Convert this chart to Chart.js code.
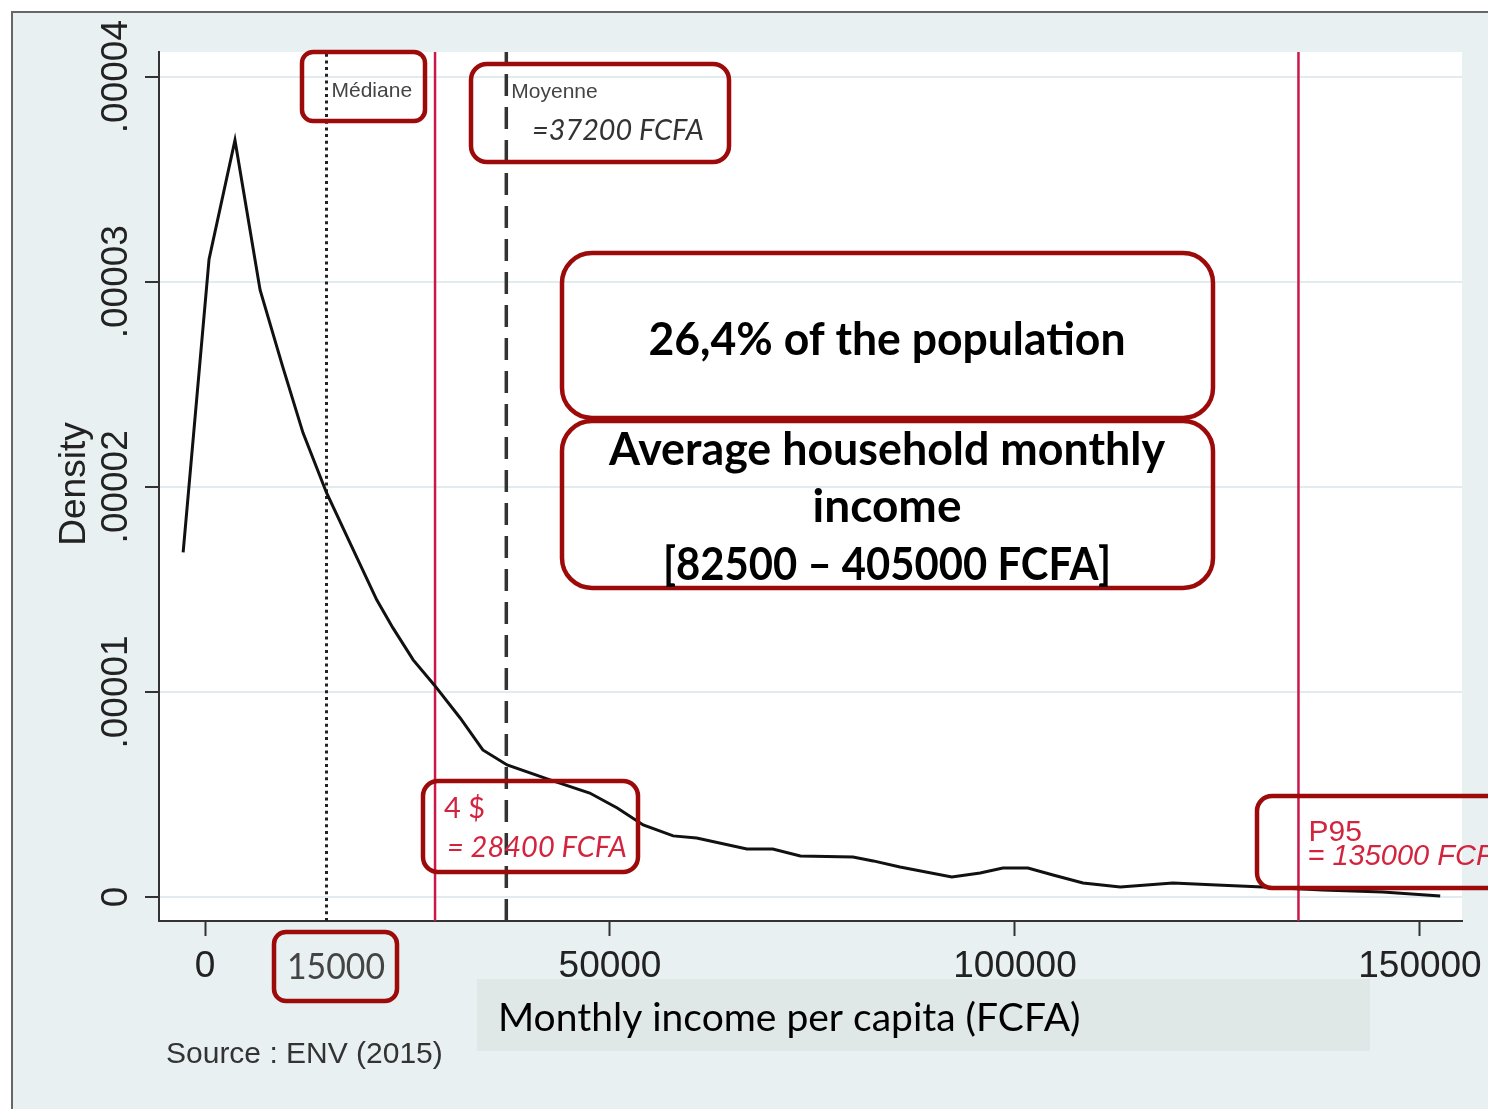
<!DOCTYPE html>
<html>
<head>
<meta charset="utf-8">
<title>Monthly income per capita - density</title>
<script src="https://cdn.jsdelivr.net/npm/chart.js@4.4.1/dist/chart.umd.min.js"></script>
<style>
  html, body { margin: 0; padding: 0; background: #fff; }
  #wrap { width: 1488px; height: 1109px; }
</style>
</head>
<body>
<div id="wrap"><canvas id="density" width="1488" height="1109"></canvas></div>
<script>
(function () {
    "use strict";

    // kernel density curve (FCFA / density)
    var incomeX = [-2700, 500, 3700, 6800, 9600, 12100, 15000, 17900, 21200, 23200,
        25700, 28300, 31500, 34300, 37300, 42600, 47500, 50900, 54100, 57800,
        60700, 66900, 70100, 73500, 80000, 82500, 85800, 92200, 95700, 98500,
        101600, 104700, 108400, 113000, 119500, 124900, 130600, 138000, 145400, 152500];
    var densityY = [1.68e-5, 3.11e-5, 3.69e-5, 2.96e-5, 2.585e-5, 2.263e-5, 1.971e-5, 1.727e-5, 1.449e-5, 1.312e-5,
        1.156e-5, 1.034e-5, 0.873e-5, 0.717e-5, 0.644e-5, 0.571e-5, 0.507e-5, 0.434e-5, 0.351e-5, 0.298e-5,
        0.288e-5, 0.234e-5, 0.234e-5, 0.200e-5, 0.195e-5, 0.176e-5, 0.146e-5, 0.098e-5, 0.117e-5, 0.141e-5,
        0.141e-5, 0.107e-5, 0.068e-5, 0.049e-5, 0.068e-5, 0.059e-5, 0.049e-5, 0.034e-5, 0.024e-5, 0.005e-5];

    var xTicks = [0, 50000, 100000, 150000];
    var xTickLabels = ["0", "50000", "100000", "150000"];
    var yTicks = [0, 0.00001, 0.00002, 0.00003, 0.00004];
    var yTickLabels = ["0", ".00001", ".00002", ".00003", ".00004"];

    // reference lines
    var medianIncome = 15000;
    var povertyLine = 28400;   // 4 $ a day
    var meanIncome = 37200;
    var p95Income = 135000;

    var xRange = [-5680, 155190];
    var yRange = [-0.00000117, 0.0000412];

    var RED_LINE = "#c9184a";
    var RED_TEXT = "#d2243f";
    var BOX = "#9c0a0a";
    var BG = "#e9f0f2";
    var SANS = "'Liberation Sans', Arial, sans-serif";
    var CAL = "Lato, 'Open Sans', sans-serif";

    var curve = incomeX.map(function (x, i) { return { x: x, y: densityY[i] }; });

    function vline(x, color, width, dash) {
        return {
            data: [{ x: x, y: yRange[0] }, { x: x, y: yRange[1] }],
            showLine: true, borderColor: color, borderWidth: width, borderDash: dash,
            pointRadius: 0, order: 2
        };
    }

    function box(ctx, x0, y0, x1, y1, r) {
        ctx.save();
        ctx.strokeStyle = BOX;
        ctx.lineWidth = 4.5;
        ctx.beginPath();
        ctx.roundRect(x0, y0, x1 - x0, y1 - y0, r);
        ctx.stroke();
        ctx.restore();
    }

    function text(ctx, str, x, y, font, color, align, maxW) {
        ctx.save();
        ctx.font = font;
        ctx.fillStyle = color;
        ctx.textAlign = align || "left";
        ctx.textBaseline = "alphabetic";
        if (maxW) ctx.fillText(str, x, y, maxW); else ctx.fillText(str, x, y);
        ctx.restore();
    }

    function rotText(ctx, str, x, y, font, color) {
        ctx.save();
        ctx.translate(x, y);
        ctx.rotate(-Math.PI / 2);
        ctx.font = font;
        ctx.fillStyle = color;
        ctx.textAlign = "center";
        ctx.textBaseline = "alphabetic";
        ctx.fillText(str, 0, 0);
        ctx.restore();
    }

    // background, frame, plot region, x-title panel
    var backdrop = {
        id: "backdrop",
        beforeDraw: function (chart) {
            var ctx = chart.ctx, a = chart.chartArea;
            ctx.save();
            ctx.fillStyle = "#fff";
            ctx.fillRect(0, 0, chart.width, chart.height);
            ctx.fillStyle = BG;
            ctx.fillRect(12, 12, chart.width - 12, chart.height - 12);
            ctx.strokeStyle = "#666";
            ctx.lineWidth = 2;
            ctx.beginPath();
            ctx.moveTo(12, chart.height);
            ctx.lineTo(12, 12);
            ctx.lineTo(chart.width, 12);
            ctx.stroke();
            ctx.fillStyle = "#fff";
            ctx.fillRect(a.left, a.top, a.right - a.left, a.bottom - a.top);
            ctx.fillStyle = "#e0e7e7";
            ctx.fillRect(477, 979, 893, 72);
            ctx.restore();
        }
    };

    // tick labels, titles and the callout boxes
    var overlay = {
        id: "overlay",
        afterDraw: function (chart) {
            var ctx = chart.ctx;
            var xs = chart.scales.x, ys = chart.scales.y;

            xTicks.forEach(function (v, i) {
                text(ctx, xTickLabels[i], xs.getPixelForValue(v), 977, "37px " + SANS, "#222", "center");
            });
            yTicks.forEach(function (v, i) {
                rotText(ctx, yTickLabels[i], 127, ys.getPixelForValue(v), "37px " + SANS, "#222");
            });
            rotText(ctx, "Density", 85, 484, "37px " + SANS, "#222");

            text(ctx, "Source : ENV (2015)", 166, 1063, "30px " + SANS, "#333");
            text(ctx, "Monthly income per capita (FCFA)", 498, 1031, "39px " + CAL, "#000", "left", 583);

            // median
            var pMed = xs.getPixelForValue(medianIncome);
            box(ctx, 302, 52, 425, 121, 11);
            text(ctx, "Médiane", pMed + 5, 97, "21px " + SANS, "#444");
            box(ctx, 274, 932, 397, 1001, 12);
            text(ctx, String(medianIncome), 336, 979, "36px " + CAL, "#444", "center", 98);

            // mean
            var pMean = xs.getPixelForValue(meanIncome);
            box(ctx, 471, 64, 729, 162, 16);
            text(ctx, "Moyenne", pMean + 5, 98, "21px " + SANS, "#444");
            text(ctx, "=" + meanIncome + " FCFA", 532, 140, "italic 29px " + CAL, "#333", "left", 172);

            // 4 $ line
            var pPov = xs.getPixelForValue(povertyLine);
            box(ctx, 423, 781, 638, 872, 15);
            text(ctx, "4 $", pPov + 9, 818, "29px " + CAL, RED_TEXT);
            text(ctx, "= " + povertyLine + " FCFA", 447, 857, "italic 29px " + CAL, RED_TEXT, "left", 181);

            // P95
            var pP95 = xs.getPixelForValue(p95Income);
            box(ctx, 1257, 796, 1510, 888, 15);
            text(ctx, "P95", pP95 + 10, 841, "30px " + SANS, RED_TEXT);
            text(ctx, "= " + p95Income + " FCFA", pP95 + 9, 865, "italic 29px " + SANS, RED_TEXT);

            // income group callouts
            box(ctx, 562, 253, 1213, 418, 30);
            box(ctx, 562, 421, 1213, 588, 30);
            var bold = "bold 46px " + CAL;
            text(ctx, "26,4% of the population", 887, 355, bold, "#000", "center", 477);
            text(ctx, "Average household monthly", 887, 465, bold, "#000", "center", 556);
            text(ctx, "income", 887, 522, bold, "#000", "center");
            text(ctx, "[82500 \u2013 405000 FCFA]", 887, 580, bold, "#000", "center", 448);
        }
    };

    var ctx = document.getElementById("density").getContext("2d");
    var densityChart = new Chart(ctx, {
        type: "scatter",
        data: {
            datasets: [
                {
                    data: curve, showLine: true, borderColor: "#111", borderWidth: 3,
                    pointRadius: 0, tension: 0, order: 1
                },
                vline(medianIncome, "#222", 3, [3, 3.7]),
                vline(povertyLine, RED_LINE, 2.5, []),
                vline(meanIncome, "#333", 3.5, [22, 11]),
                vline(p95Income, RED_LINE, 2.5, [])
            ]
        },
        options: {
            responsive: false,
            animation: false,
            devicePixelRatio: 1,
            layout: { padding: { left: 0, top: 52, right: 26, bottom: 0 } },
            plugins: { legend: { display: false }, tooltip: { enabled: false } },
            scales: {
                x: {
                    type: "linear", min: xRange[0], max: xRange[1],
                    afterBuildTicks: function (s) { s.ticks = xTicks.map(function (v) { return { value: v }; }); },
                    afterFit: function (s) { s.height = 188; },
                    ticks: { display: false },
                    grid: { drawOnChartArea: false, drawTicks: true, tickLength: 15, tickColor: "#333", tickWidth: 2 },
                    border: { display: true, color: "#333", width: 2 }
                },
                y: {
                    type: "linear", min: yRange[0], max: yRange[1],
                    afterBuildTicks: function (s) { s.ticks = yTicks.map(function (v) { return { value: v }; }); },
                    afterFit: function (s) { s.width = 159; },
                    ticks: { display: false },
                    grid: { color: "#e2ecee", lineWidth: 2, drawTicks: true, tickLength: 14, tickColor: "#333", tickWidth: 2 },
                    border: { display: true, color: "#333", width: 2 }
                }
            }
        },
        plugins: [backdrop, overlay]
    });
})();
</script>
</body>
</html>
